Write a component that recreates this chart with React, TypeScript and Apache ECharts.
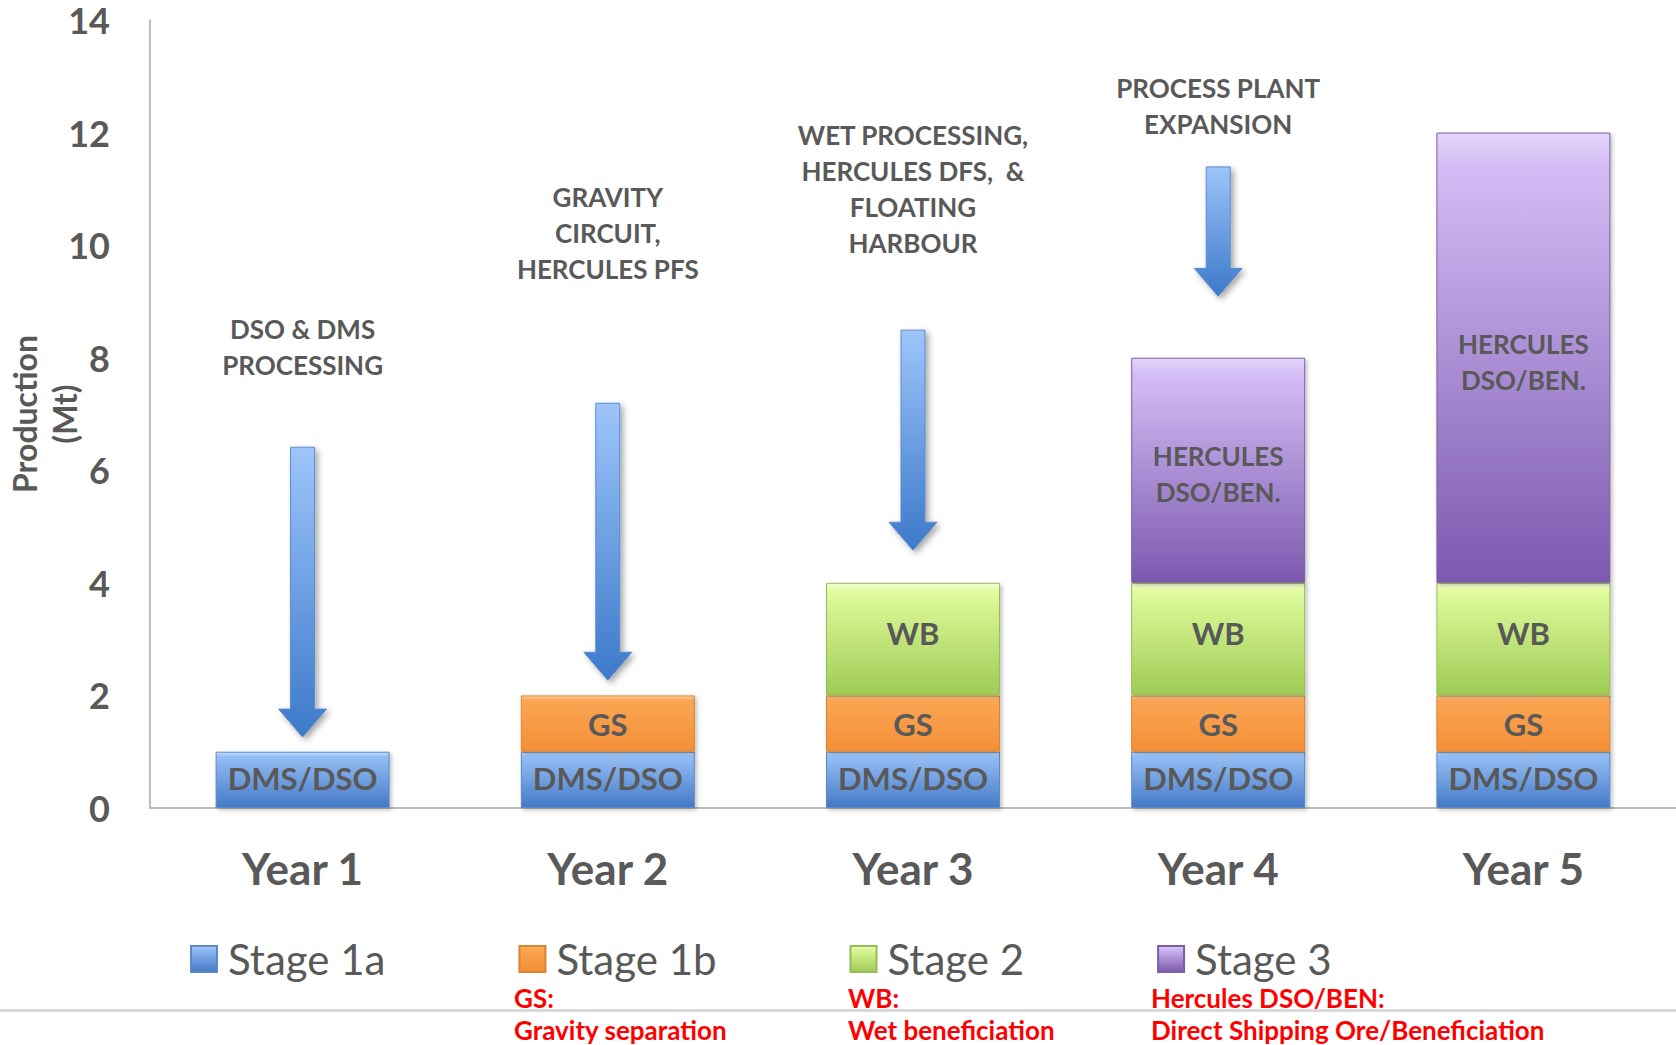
import React, { useEffect, useRef } from "react";
import * as echarts from "echarts";

const years = ["Year 1", "Year 2", "Year 3", "Year 4", "Year 5"];
const stageNames = ["Stage 1a", "Stage 1b", "Stage 2", "Stage 3"];
const stage1a = [1, 1, 1, 1, 1];
const stage1b = [null, 1, 1, 1, 1];
const stage2 = [null, null, 2, 2, 2];
const stage3 = [null, null, null, 4, 8];
const segmentLabels = ["DMS/DSO", "GS", "WB", "HERCULES\nDSO/BEN."];
const yMin = 0;
const yMax = 14;
const yInterval = 2;

const arrowYear = [0, 1, 2, 3];
const arrowTop = [6.41, 7.19, 8.49, 11.39];
const arrowTip = [1.26, 2.27, 4.58, 9.09];
const milestoneText = [
  "DSO & DMS\nPROCESSING",
  "GRAVITY\nCIRCUIT,\nHERCULES PFS",
  "WET PROCESSING,\nHERCULES DFS,  &\nFLOATING\nHARBOUR",
  "PROCESS PLANT\nEXPANSION",
];
const milestoneY = [8.19, 10.22, 11.0, 12.47];

const noteTitles = ["GS:", "WB:", "Hercules DSO/BEN:"];
const noteBodies = ["Gravity separation", "Wet beneficiation", "Direct Shipping Ore/Beneficiation"];
const noteX = [514, 848, 1151];

const FONT = "Lato, 'Noto Sans', sans-serif";
const GRAY = "#595959";

const grad = (stops: [number, string][]) =>
  new echarts.graphic.LinearGradient(0, 0, 0, 1, stops.map(([offset, color]) => ({ offset, color })));

const stageColors = [
  grad([[0, "#C4DEFF"], [0.08, "#95BEF5"], [1, "#4479C6"]]),
  grad([[0, "#FFD29C"], [0.08, "#FBA654"], [1, "#F38F36"]]),
  grad([[0, "#F6FFD2"], [0.08, "#E0FB9C"], [1, "#9ECB55"]]),
  grad([[0, "#E4D5FA"], [0.08, "#D3BCF5"], [1, "#7C59AE"]]),
];
const stageBorders = ["#5A89C6", "#D9822F", "#98BC57", "#7B5FA4"];
const labelOffsets = [-2, 0, -6, 4];
const stageData = [stage1a, stage1b, stage2, stage3];

export default function App() {
  const ref = useRef<HTMLDivElement>(null);
  useEffect(() => {
    if (!ref.current) return;
    const chart = echarts.init(ref.current, null, { renderer: "svg" });

    const barSeries = stageNames.map((name, i) => ({
      name,
      type: "bar",
      stack: "total",
      barWidth: "57%",
      data: stageData[i],
      itemStyle: {
        color: stageColors[i],
        borderColor: stageBorders[i],
        borderWidth: 1,
        shadowBlur: 4,
        shadowColor: "rgba(0,0,0,0.25)",
        shadowOffsetX: 2,
        shadowOffsetY: 2,
      },
      label: {
        show: true,
        position: "inside",
        formatter: segmentLabels[i],
        color: GRAY,
        fontFamily: FONT,
        fontWeight: "bold",
        fontSize: i === 3 ? 26 : 31,
        lineHeight: i === 3 ? 36 : 34,
        offset: [0, labelOffsets[i]],
      },
      emphasis: { disabled: true },
    }));

    const arrowSeries = {
      type: "custom",
      name: "arrows",
      silent: true,
      data: arrowYear.map((x, i) => [x, arrowTop[i], arrowTip[i]]),
      renderItem: (params: any, api: any) => {
        const top = api.coord([api.value(0), api.value(1)]);
        const tip = api.coord([api.value(0), api.value(2)]);
        const x = top[0];
        const sh = 12, hh = 24, hl = 28;
        const points = [
          [x - sh, top[1]],
          [x + sh, top[1]],
          [x + sh, tip[1] - hl],
          [x + hh, tip[1] - hl],
          [x, tip[1]],
          [x - hh, tip[1] - hl],
          [x - sh, tip[1] - hl],
        ];
        return {
          type: "polygon",
          shape: { points },
          style: {
            fill: grad([[0, "#9DC5FB"], [1, "#3C79C9"]]),
            stroke: "#5B8BCB",
            lineWidth: 1,
            shadowBlur: 6,
            shadowColor: "rgba(0,0,0,0.35)",
            shadowOffsetX: 3,
            shadowOffsetY: 3,
          },
        };
      },
    };

    const textSeries = {
      type: "custom",
      name: "milestones",
      silent: true,
      data: arrowYear.map((x, i) => [x, milestoneY[i]]),
      renderItem: (params: any, api: any) => {
        const p = api.coord([api.value(0), api.value(1)]);
        return {
          type: "text",
          x: p[0],
          y: p[1],
          style: {
            text: milestoneText[params.dataIndex],
            fill: GRAY,
            fontFamily: FONT,
            fontWeight: "bold",
            fontSize: 26,
            lineHeight: 36,
            align: "center",
            verticalAlign: "middle",
          },
        };
      },
    };

    const graphics: any[] = [
      { type: "rect", left: 0, top: 1009, shape: { width: 1676, height: 3 }, style: { fill: "#D9D9D9" } },
    ];
    noteTitles.forEach((t, i) => {
      graphics.push({
        type: "text",
        left: noteX[i],
        top: 985,
        style: { text: t, fill: "#FF0000", fontFamily: FONT, fontWeight: "bold", fontSize: 26, lineHeight: 26 },
      });
      graphics.push({
        type: "text",
        left: noteX[i],
        top: 1017,
        style: { text: noteBodies[i], fill: "#FF0000", fontFamily: FONT, fontWeight: "bold", fontSize: 26, lineHeight: 26 },
      });
    });

    chart.setOption({
      animation: false,
      grid: { left: 150, right: 0, top: 20, bottom: 237, containLabel: false, outerBoundsMode: "none" },
      legend: {
        data: stageNames,
        left: 190,
        top: 938,
        padding: 0,
        itemGap: 133,
        itemWidth: 26,
        itemHeight: 26,
        icon: "rect",
        textStyle: { fontSize: 42, lineHeight: 42, color: GRAY, fontFamily: FONT, padding: [0, 0, 0, 6] },
        selectedMode: false,
      },
      xAxis: {
        type: "category",
        data: years,
        axisLine: { lineStyle: { color: "#A6A6A6", width: 1.5 } },
        axisTick: { show: false },
        axisLabel: { color: GRAY, fontFamily: FONT, fontWeight: "bold", fontSize: 44, margin: 38 },
      },
      yAxis: {
        type: "value",
        min: yMin,
        max: yMax,
        interval: yInterval,
        name: "Production\n(Mt)",
        nameLocation: "middle",
        nameRotate: 90,
        nameGap: 66,
        nameMoveOverlap: false,
        nameTextStyle: { color: GRAY, fontFamily: FONT, fontWeight: "bold", fontSize: 32, lineHeight: 40 },
        axisLine: { show: true, lineStyle: { color: "#A6A6A6", width: 1.5 } },
        axisTick: { show: false },
        splitLine: { show: false },
        axisLabel: { color: GRAY, fontFamily: FONT, fontWeight: "bold", fontSize: 36, lineHeight: 36, margin: 40 },
      },
      series: [...barSeries, arrowSeries, textSeries],
      graphic: graphics,
    });
    return () => chart.dispose();
  }, []);
  return (
    <div
      ref={ref}
      style={{ position: "fixed", left: 0, top: 0, width: 1676, height: 1045, background: "#fff" }}
    />
  );
}
